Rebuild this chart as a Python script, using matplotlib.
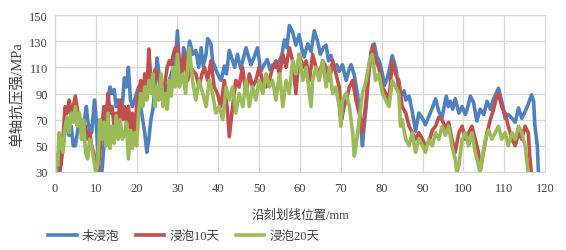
import matplotlib
matplotlib.use("Agg")
import matplotlib.pyplot as plt

plt.rcParams['font.family'] = ['Liberation Serif', 'Noto Sans CJK SC']

# 未浸泡
x_blue = [0, 0.5, 1.2, 1.8, 2.5, 3, 3.5, 4, 4.5, 5, 5.5, 6, 6.5, 7, 7.7, 8, 8.5, 9, 9.7, 10,
          10.5, 10.8, 11.5, 12, 12.5, 13, 13.5, 14, 14.5, 15, 15.5, 16, 16.5, 17, 17.5, 18, 18.5, 19, 19.5, 20,
          20.5, 21, 21.5, 22, 22.5, 23, 23.5, 24, 24.5, 25, 25.5, 26, 26.5, 27, 27.5, 28, 28.5, 29, 29.5, 30,
          30.5, 31, 31.5, 32, 32.5, 33, 33.7, 34.5, 35.2, 35.8, 36.3, 37, 37.4, 38.2, 38.6, 39.2, 39.8, 40.7, 41.5, 42,
          42.7, 43.5, 44, 44.7, 45.5, 46, 46.8, 47.4, 48, 48.8, 49.6, 50.4, 51.2, 52, 52.7, 53.3, 54, 55, 55.6, 56.2,
          56.8, 57.4, 58.2, 59, 59.8, 60.4, 61, 61.9, 62.7, 63.5, 64.3, 65, 65.7, 66.4, 67, 67.6, 68.4, 69, 69.6, 70.4,
          71.3, 72, 72.5, 73.3, 74.1, 74.6, 75, 75.3, 75.7, 76.2, 76.8, 77.4, 78.2, 78.8, 79.4, 80.2, 80.6, 81.2, 81.8, 82.6,
          83.4, 84.2, 85, 85.5, 85.9, 86.7, 87.5, 88.3, 89.1, 90, 90.7, 91.5, 92.4, 93.2, 94, 94.8, 95.8, 96.3, 96.8, 97.4,
          98, 98.9, 99.7, 100.5, 101.1, 101.7, 102.5, 103.3, 104.1, 105, 105.8, 106.6, 107.4, 108.6, 109.4, 110.2, 111, 111.9, 112.7, 113.5,
          114.3, 115.1, 115.9, 116.7, 117.2, 117.5, 118.1, 118.4]
y_blue = [35, 40, 30, 45, 62, 68, 58, 65, 50, 50, 60, 72, 68, 65, 80, 70, 62, 60, 85, 75,
          45, 30, 30, 50, 65, 85, 95, 90, 93, 80, 85, 75, 80, 102, 95, 110, 85, 80, 85, 90,
          95, 80, 70, 60, 45, 55, 70, 78, 95, 117, 105, 100, 95, 90, 95, 100, 105, 110, 115, 138,
          110, 100, 125, 112, 120, 130, 120, 123, 110, 125, 111, 120, 132, 128, 115, 110, 105, 100, 111, 105,
          123, 115, 110, 120, 109, 115, 125, 118, 112, 118, 125, 107, 112, 116, 108, 112, 110, 115, 120, 131,
          125, 142, 137, 127, 135, 125, 118, 128, 122, 138, 130, 120, 125, 127, 115, 119, 110, 112, 107, 112,
          100, 108, 112, 104, 89, 75, 61, 50, 65, 80, 105, 122, 128, 118, 115, 105, 96, 100, 107, 119,
          110, 94, 89, 92, 85, 88, 76, 61, 75, 71, 66, 72, 79, 86, 76, 72, 88, 80, 84, 78,
          86, 75, 80, 74, 80, 88, 83, 69, 78, 74, 84, 78, 86, 94, 84, 71, 74, 71, 68, 79,
          71, 76, 82, 89, 84, 66, 50, 28]

# 浸泡10天
x_red = [1, 1.5, 2, 2.5, 3, 3.5, 4, 4.5, 5, 5.5, 6, 6.5, 7, 7.5, 8, 8.5, 9, 9.5, 10, 10.5,
         11, 11.5, 12, 12.5, 13, 13.5, 14, 14.5, 15, 15.5, 16, 16.5, 17, 17.5, 18, 18.5, 19, 19.5, 20, 20.5,
         21, 21.5, 22, 22.5, 23, 23.5, 24, 24.5, 25, 25.5, 26, 26.5, 27, 27.5, 28, 28.5, 29, 29.5, 30, 30.5,
         31, 31.5, 32, 32.5, 33.2, 33.7, 34.5, 35.3, 36, 36.6, 37.4, 38.2, 39, 39.8, 40.6, 41.5, 42.3, 42.7, 43.5, 44.3,
         45.1, 45.9, 46.8, 47.6, 48.4, 49.2, 50, 50.8, 51.7, 52.5, 53.3, 54.1, 55, 55.8, 56.6, 57.4, 58.2, 59, 59.8, 60.7,
         61.5, 62.3, 63.1, 63.9, 64.7, 65.6, 66.4, 67.2, 68, 68.8, 69.6, 70.2, 70.8, 71.3, 72.1, 72.9, 73.7, 74.5, 75.3, 76.2,
         77, 77.8, 78.5, 79.3, 80.2, 81, 81.8, 82.6, 83.4, 84.2, 85, 85.9, 86.7, 87.5, 88.3, 89.1, 90, 90.7, 91.5, 92.4,
         93.2, 94, 94.8, 95.6, 96.4, 97.2, 98, 98.9, 99.7, 100.5, 101.3, 102.1, 102.9, 103.7, 104.1, 104.9, 105.8, 106.6, 107.4, 108.2,
         108.6, 109.4, 110.2, 111, 111.9, 112.7, 113.5, 114.3, 115.1, 115.9, 116.3, 116.7]
y_red = [30, 35, 58, 80, 75, 85, 75, 80, 88, 78, 65, 70, 60, 65, 55, 60, 50, 45, 35, 30,
         45, 65, 80, 70, 90, 75, 80, 65, 75, 70, 85, 70, 80, 68, 80, 63, 75, 55, 80, 90,
         100, 85, 105, 90, 124, 100, 95, 108, 105, 100, 90, 85, 100, 110, 115, 112, 120, 125, 126, 115,
         105, 120, 110, 100, 110, 108, 105, 95, 105, 110, 100, 115, 95, 90, 80, 100, 75, 57, 80, 100,
         95, 110, 90, 105, 95, 100, 110, 100, 95, 100, 110, 115, 105, 120, 110, 125, 115, 90, 120, 110,
         115, 100, 120, 110, 105, 115, 110, 100, 115, 105, 95, 70, 80, 85, 95, 100, 85, 75, 60, 85,
         110, 127, 115, 110, 95, 90, 85, 115, 105, 100, 80, 75, 65, 60, 55, 60, 55, 50, 52, 62,
         65, 72, 70, 63, 68, 55, 45, 60, 65, 55, 60, 65, 55, 45, 30, 45, 60, 70, 78, 88,
         90, 80, 75, 65, 55, 50, 60, 55, 65, 60, 40, 28]

# 浸泡20天
x_green = [0, 0.3, 0.7, 1, 1.5, 2, 2.5, 3, 3.5, 4, 4.5, 5, 5.5, 6, 6.5, 7, 7.5, 8, 8.5, 9,
           9.5, 10, 10.5, 11, 11.5, 12, 12.5, 13, 13.5, 14, 14.5, 15, 15.5, 16, 16.5, 17, 17.5, 18, 18.5, 19,
           19.5, 20, 20.5, 21, 21.5, 22, 22.5, 23, 23.5, 24, 24.5, 25, 25.5, 26, 26.5, 27, 27.5, 28, 28.5, 29,
           29.5, 30, 30.5, 31.3, 32, 32.9, 33.7, 34.5, 35.3, 36.2, 37, 37.8, 38.6, 39.4, 40.2, 41.1, 41.9, 42.7, 43.5, 44.3,
           45.1, 46, 46.8, 47.6, 48.4, 49.2, 50, 50.9, 51.7, 52.5, 53.3, 54.1, 55, 55.8, 56.6, 57.4, 58.2, 59, 59.8, 60.7,
           61.5, 62.3, 62.7, 63.1, 63.9, 64.7, 65.6, 66.4, 67.2, 68, 68.8, 69.6, 70, 70.4, 71.3, 72.1, 72.9, 73.3, 73.7, 74.5,
           75.3, 76.2, 77, 77.7, 78.5, 79.3, 80.2, 81, 81.8, 82.6, 83.4, 84.2, 84.6, 85, 85.9, 86.7, 87.5, 88.3, 89.1, 90,
           90.7, 91.5, 92.4, 93.2, 94, 94.8, 95.6, 96.4, 97.2, 98, 98.4, 98.9, 99.7, 100.5, 101.3, 102.1, 102.9, 103.7, 104.1, 104.5,
           105.4, 106.2, 107, 107.8, 108.6, 109.4, 110.2, 111, 111.9, 112.7, 113.5, 114.3, 115.1, 115.5, 115.9]
y_green = [30, 43, 35, 60, 55, 45, 65, 72, 60, 75, 68, 80, 65, 75, 55, 70, 45, 40, 55, 50,
           40, 30, 35, 70, 55, 68, 50, 75, 48, 65, 52, 73, 55, 70, 55, 58, 68, 40, 62, 48,
           60, 50, 75, 90, 80, 95, 85, 100, 90, 105, 80, 95, 85, 105, 80, 90, 78, 100, 88, 110,
           95, 120, 95, 105, 90, 125, 100, 85, 100, 90, 80, 100, 90, 75, 80, 70, 95, 85, 95, 75,
           90, 80, 100, 80, 95, 85, 100, 90, 105, 95, 100, 85, 105, 80, 100, 90, 115, 105, 120, 100,
           110, 90, 80, 100, 110, 100, 115, 95, 110, 90, 95, 80, 65, 85, 90, 80, 60, 42, 50, 70,
           90, 100, 115, 120, 100, 105, 90, 85, 80, 100, 95, 90, 65, 70, 55, 50, 60, 45, 55, 50,
           45, 55, 50, 60, 55, 65, 58, 65, 50, 40, 30, 35, 55, 60, 50, 60, 45, 35, 30, 40,
           55, 62, 55, 60, 65, 55, 60, 50, 60, 55, 65, 60, 50, 40, 28]

fig, ax = plt.subplots(figsize=(5.66, 2.51), dpi=100)
fig.subplots_adjust(left=0.097, right=0.963, top=0.936, bottom=0.311)

ax.plot(x_blue, y_blue, color='#4F81BD', lw=2.6, label='未浸泡')
ax.plot(x_red, y_red, color='#C0504D', lw=2.6, label='浸泡10天')
ax.plot(x_green, y_green, color='#9BBB59', lw=2.6, label='浸泡20天')

ax.set_xlim(0, 120)
ax.set_ylim(30, 150)
ax.set_xticks(range(0, 121, 10))
ax.set_yticks(range(30, 151, 20))
ax.grid(True, color='#D9D9D9', lw=0.9)
ax.set_axisbelow(True)
for s in ax.spines.values():
    s.set_color('#D9D9D9')
ax.tick_params(length=0, labelsize=9, colors='#404040')
ax.tick_params(axis='x', pad=7)
ax.tick_params(axis='y', pad=5)

ax.set_xlabel('沿刻划线位置/mm', fontsize=9, color='#404040', labelpad=11)
ax.set_ylabel('单轴抗压强/MPa', fontsize=10.5, color='#404040', labelpad=3)

fig.legend(loc='center left', bbox_to_anchor=(0.065, 0.055), ncol=3, frameon=False,
           fontsize=9, handlelength=2.3, columnspacing=1.3, handletextpad=0.4,
           labelcolor='#404040')

fig.savefig('out.png', dpi=100)
